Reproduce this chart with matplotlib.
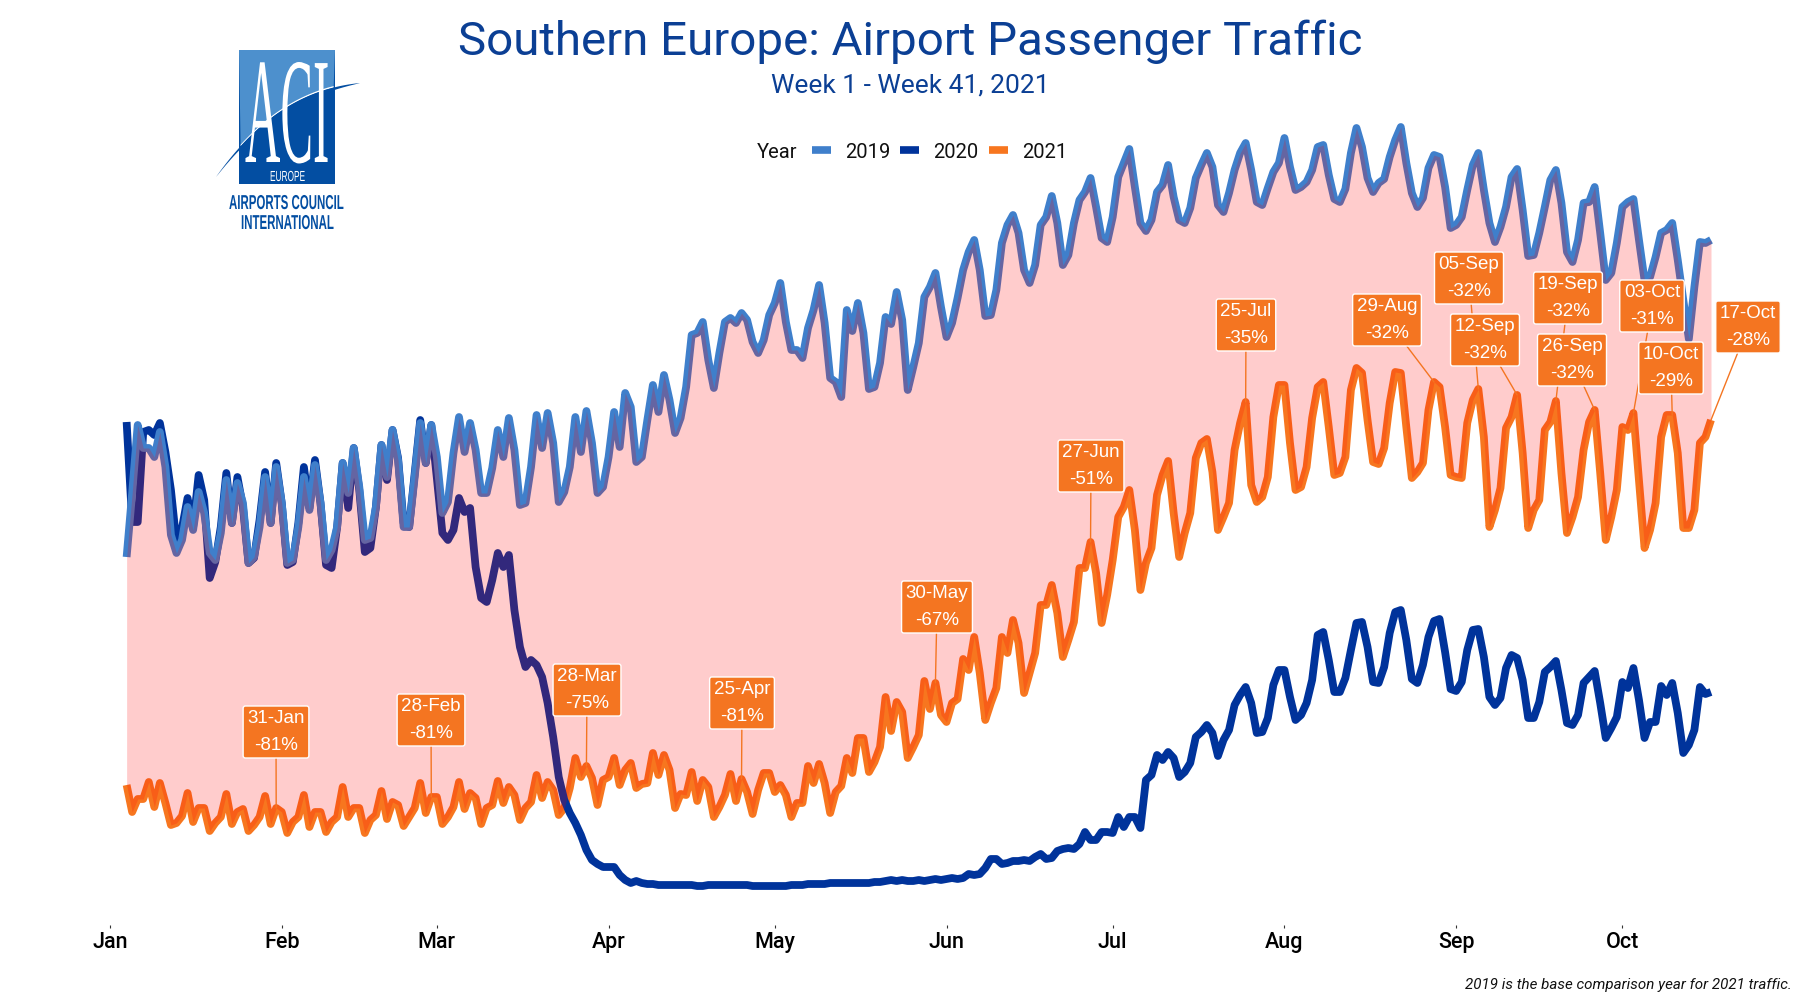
import matplotlib
matplotlib.use('Agg')
import matplotlib.pyplot as plt
import matplotlib.dates as mdates
import matplotlib.patheffects as pe
from matplotlib.lines import Line2D
from matplotlib.patches import Polygon, Rectangle
from matplotlib.transforms import Affine2D
import numpy as np
import pandas as pd

# Daily traffic, Mon 4 Jan to Sun 17 Oct (no y axis in the original)
dates = pd.date_range('2021-01-04', '2021-10-17', freq='D')

traffic_2019 = [
    331, 395, 463, 440, 440, 431, 456, 421, 353, 335, 348, 381, 358, 396,
    375, 335, 328, 355, 408, 365, 405, 385, 325, 331, 361, 411, 365, 421,
    385, 325, 328, 361, 411, 378, 423, 385, 328, 338, 361, 425, 395, 440,
    401, 348, 350, 381, 443, 411, 458, 428, 361, 361, 411, 465, 425, 463,
    431, 375, 386, 435, 471, 436, 465, 438, 395, 395, 420, 458, 431, 470,
    438, 383, 385, 421, 473, 440, 475, 445, 386, 396, 421, 471, 436, 477,
    445, 395, 401, 431, 476, 441, 495, 481, 426, 431, 468, 503, 476, 513,
    488, 455, 470, 501, 553, 555, 566, 528, 500, 535, 566, 570, 565, 575,
    568, 546, 535, 548, 573, 585, 605, 566, 538, 538, 530, 560, 578, 603,
    565, 510, 506, 491, 578, 557, 585, 555, 499, 501, 525, 571, 564, 596,
    568, 498, 521, 545, 591, 601, 615, 581, 551, 565, 590, 618, 636, 648,
    618, 572, 573, 598, 645, 663, 673, 655, 618, 605, 623, 663, 671, 692,
    665, 623, 633, 665, 688, 696, 710, 681, 650, 646, 671, 711, 725, 739,
    701, 665, 657, 668, 696, 703, 723, 691, 668, 665, 680, 710, 723, 735,
    721, 683, 676, 695, 718, 735, 745, 718, 686, 683, 700, 716, 725, 750,
    721, 698, 701, 706, 718, 741, 743, 713, 689, 686, 699, 735, 760, 741,
    710, 696, 705, 709, 731, 748, 761, 725, 695, 681, 690, 720, 733, 731,
    701, 660, 663, 671, 698, 723, 735, 698, 665, 646, 661, 681, 711, 719,
    678, 632, 633, 655, 681, 708, 718, 685, 636, 626, 648, 685, 686, 701,
    655, 608, 615, 645, 681, 686, 689, 648, 608, 611, 631, 655, 658, 665,
    628, 588, 549, 601, 646, 645, 648,
]
traffic_2020 = [
    466, 366, 366, 456, 458, 453, 465, 436, 398, 345, 360, 390, 361, 413,
    388, 310, 326, 361, 415, 365, 411, 381, 325, 330, 368, 416, 365, 425,
    385, 323, 326, 365, 421, 380, 428, 385, 323, 320, 361, 425, 380, 440,
    398, 336, 340, 381, 443, 408, 458, 430, 365, 361, 415, 468, 425, 463,
    410, 355, 348, 358, 390, 376, 380, 321, 290, 286, 308, 335, 321, 333,
    278, 241, 221, 228, 223, 211, 185, 151, 111, 88, 75, 65, 53, 38,
    28, 24, 21, 21, 21, 13, 8, 5, 7, 5, 4, 4, 3, 3,
    3, 3, 3, 3, 3, 2, 2, 3, 3, 3, 3, 3, 3, 3,
    3, 2, 2, 2, 2, 2, 2, 2, 3, 3, 3, 4, 4, 4,
    4, 5, 5, 5, 5, 5, 5, 5, 5, 6, 6, 7, 8, 7,
    8, 7, 7, 8, 7, 8, 9, 8, 9, 10, 9, 10, 14, 13,
    14, 20, 29, 29, 24, 25, 27, 27, 28, 27, 31, 34, 29, 30,
    37, 39, 40, 39, 44, 56, 48, 48, 56, 56, 55, 71, 61, 71,
    71, 60, 108, 113, 133, 128, 136, 130, 111, 116, 125, 151, 156, 163,
    155, 132, 148, 158, 183, 193, 201, 185, 155, 156, 170, 203, 218, 218,
    191, 168, 173, 185, 208, 253, 256, 228, 196, 196, 210, 238, 265, 266,
    241, 206, 205, 221, 255, 276, 278, 248, 209, 205, 223, 251, 267, 269,
    236, 199, 197, 206, 238, 258, 259, 231, 191, 183, 190, 220, 233, 230,
    208, 170, 170, 186, 216, 221, 227, 198, 165, 163, 173, 205, 211, 217,
    185, 150, 160, 171, 206, 200, 220, 188, 150, 166, 166, 202, 193, 205,
    175, 135, 143, 158, 201, 194, 196,
]
traffic_2021 = [
    103, 76, 89, 89, 106, 81, 105, 85, 63, 65, 72, 95, 66, 80,
    80, 57, 65, 71, 94, 64, 76, 79, 57, 63, 71, 92, 64, 80,
    76, 55, 66, 71, 93, 61, 76, 76, 56, 66, 71, 101, 71, 80,
    80, 55, 68, 73, 97, 69, 86, 83, 62, 71, 80, 105, 75, 91,
    91, 64, 71, 81, 106, 79, 95, 90, 64, 80, 83, 107, 85, 101,
    93, 68, 80, 86, 113, 90, 106, 98, 73, 80, 100, 130, 111, 122,
    110, 83, 108, 111, 130, 103, 118, 125, 100, 104, 105, 135, 113, 133,
    118, 80, 94, 93, 116, 87, 108, 101, 71, 81, 93, 114, 87, 109,
    96, 74, 98, 115, 115, 96, 103, 93, 71, 85, 85, 122, 105, 124,
    105, 75, 96, 102, 130, 115, 150, 150, 116, 126, 141, 191, 157, 186,
    176, 130, 141, 153, 207, 179, 205, 173, 166, 185, 189, 229, 218, 251,
    215, 168, 185, 200, 251, 235, 268, 245, 195, 215, 235, 283, 283, 303,
    275, 231, 248, 266, 320, 320, 346, 315, 265, 293, 328, 371, 381, 398,
    358, 298, 325, 340, 393, 413, 427, 375, 331, 355, 375, 430, 445, 449,
    416, 358, 371, 385, 438, 465, 486, 403, 386, 391, 411, 471, 503, 503,
    445, 398, 401, 421, 470, 501, 506, 461, 413, 415, 431, 498, 520, 515,
    468, 426, 424, 440, 485, 516, 515, 461, 410, 416, 425, 478, 506, 501,
    461, 413, 411, 410, 465, 488, 499, 451, 361, 378, 400, 460, 471, 493,
    435, 360, 378, 388, 458, 466, 487, 415, 355, 371, 391, 438, 466, 478,
    415, 348, 371, 398, 461, 458, 475, 408, 340, 358, 385, 451, 473, 473,
    435, 360, 360, 378, 445, 451, 468,
]

label_names = ['31-Jan', '28-Feb', '28-Mar', '25-Apr', '30-May', '27-Jun', '25-Jul', '29-Aug',
               '05-Sep', '12-Sep', '19-Sep', '26-Sep', '03-Oct', '10-Oct', '17-Oct']
label_pcts = ['-81%', '-81%', '-75%', '-81%', '-67%', '-51%', '-35%', '-32%',
              '-32%', '-32%', '-32%', '-32%', '-31%', '-29%', '-28%']
# where each connector lands (the 29-Aug one hits the peak the day before)
label_targets = ['2021-01-31', '2021-02-28', '2021-03-28', '2021-04-25', '2021-05-30',
                 '2021-06-27', '2021-07-25', '2021-08-28', '2021-09-05', '2021-09-12',
                 '2021-09-19', '2021-09-26', '2021-10-03', '2021-10-10', '2021-10-17']
# box centres in reference pixels
label_boxes = [(276, 732), (431, 720), (587, 690), (742, 703), (937, 607), (1091, 466),
               (1246, 325), (1387, 320), (1469, 278), (1485, 340), (1568, 298), (1572, 360),
               (1652, 306), (1671, 368), (1748, 327)]

COLOR_2019 = '#3F7FCB'
COLOR_2020 = '#00339B'
COLOR_2021 = '#F7761F'
NAVY = '#0B3F94'
LOGO_DARK = '#034EA2'
LOGO_LIGHT = '#4D90CD'
W, H = 1800, 1000
FONT = 'Roboto'


class Squeeze(pe.AbstractPathEffect):
    # stretches the glyphs, the logo lettering is much narrower than any installed font
    def __init__(self, sx, sy=1):
        super().__init__()
        self.sx = sx
        self.sy = sy

    def draw_path(self, renderer, gc, tpath, affine, rgbFace=None):
        renderer.draw_path(gc, tpath, Affine2D().scale(self.sx, self.sy) + affine, rgbFace)


def draw_logo(over):
    over.add_patch(Rectangle((239, 50), 96, 134, color=LOGO_DARK, lw=0))
    t = np.linspace(0, 1, 80)
    x = (1 - t)**3 * 216 + 3 * (1 - t)**2 * t * 262 + 3 * (1 - t) * t**2 * 310 + t**3 * 360
    y = (1 - t)**3 * 177 + 3 * (1 - t)**2 * t * 112 + 3 * (1 - t) * t**2 * 88 + t**3 * 83
    inside = (x >= 239) & (x <= 335)
    light = list(zip(x[inside], y[inside])) + [(335, 50), (239, 50)]
    over.add_patch(Polygon(light, color=LOGO_LIGHT, lw=0))
    for letters, left, base, size, sx, sy, color, weight, family in [
        ('ACI', 245, 162, 25, 1.41, 4.35, 'white', 'normal', 'Liberation Serif'),
        ('EUROPE', 270, 181, 10.5, 0.57, 1, 'white', 'normal', 'Liberation Sans'),
        ('AIRPORTS COUNCIL', 229, 209, 14.5, 0.57, 1, LOGO_DARK, 'bold', 'Liberation Sans'),
        ('INTERNATIONAL', 241, 229, 14.5, 0.57, 1, LOGO_DARK, 'bold', 'Liberation Sans'),
    ]:
        over.text(left, base, letters, fontsize=size, color=color, fontweight=weight, family=family,
                  ha='left', va='baseline', path_effects=[Squeeze(sx, sy)])
    thick = 4.5 * np.sin(np.pi * t)**0.8
    band = list(zip(x, y)) + list(zip(x[::-1], (y + thick)[::-1]))
    white = list(zip(x[inside], y[inside] - 1.5)) + list(zip(x[inside][::-1], y[inside][::-1]))
    over.add_patch(Polygon(white, color='white', lw=0))
    over.add_patch(Polygon(band, color=LOGO_DARK, lw=0))


fig = plt.figure(figsize=(W / 100, H / 100), dpi=100)
# Jan 1 sits at x=110, the axis line at y=925
ax = fig.add_axes([110 / W, 1 - 925 / H, (1711 - 110) / W, (925 - 100) / H])
ax.set_xlim(pd.Timestamp('2021-01-01'), pd.Timestamp('2021-10-17'))
ax.set_ylim(-37, 788)

line_kw = dict(lw=5.6, solid_joinstyle='round', solid_capstyle='butt', clip_on=False)
ax.plot(dates, traffic_2021, color=COLOR_2021, zorder=2, **line_kw)
ax.plot(dates, traffic_2020, color=COLOR_2020, zorder=3, **line_kw)
ax.plot(dates, traffic_2019, color=COLOR_2019, zorder=4, **line_kw)
# the ribbon lies over the lines, which is what tints their inner half
ax.fill_between(dates, traffic_2021, traffic_2019, color='red', alpha=0.2, lw=0, zorder=5)

series = pd.Series(traffic_2021, index=dates)
for name, pct, target, box in zip(label_names, label_pcts, label_targets, label_boxes):
    when = pd.Timestamp(target)
    ax.annotate(f'{name}\n{pct}', xy=(when, series[when]), xycoords='data',
                xytext=(box[0], H - box[1]), textcoords='figure pixels',
                ha='center', va='center', color='white', fontsize=13.5, family='Liberation Sans',
                linespacing=1.75, zorder=7, annotation_clip=False,
                bbox=dict(boxstyle='round,pad=0.22,rounding_size=0.12', fc='#F47521', ec='white', lw=1),
                arrowprops=dict(arrowstyle='-', color='#F47521', lw=1, shrinkA=0, shrinkB=0))

ax.xaxis.set_major_locator(mdates.MonthLocator())
ax.xaxis.set_major_formatter(mdates.DateFormatter('%b'))
ax.tick_params(axis='x', length=2.2, width=0.8, color='#333333', pad=2.8, labelsize=15.5)
for lab in ax.get_xticklabels():
    lab.set_family(FONT)
    lab.set_fontweight('medium')
ax.yaxis.set_visible(False)
for side in ax.spines.values():
    side.set_visible(False)
ax.patch.set_alpha(0)

# overlay in reference pixels for title, legend and logo
over = fig.add_axes([0, 0, 1, 1], zorder=10)
over.set_xlim(0, W)
over.set_ylim(H, 0)
over.axis('off')

over.text(910, 42, 'Southern Europe: Airport Passenger Traffic', ha='center', va='center',
          color=NAVY, fontsize=34.2, family=FONT)
over.text(910, 86, 'Week 1 - Week 41, 2021', ha='center', va='center', color=NAVY,
          fontsize=19, family=FONT)

over.text(757, 153, 'Year', ha='left', va='center', fontsize=14.5, family=FONT, color='#111111')
for name, color, x0 in [('2019', COLOR_2019, 812), ('2020', COLOR_2020, 900), ('2021', COLOR_2021, 989)]:
    over.add_line(Line2D([x0, x0 + 19], [150, 150], color=color, lw=5.5, solid_capstyle='butt'))
    over.text(x0 + 33, 153, name, ha='left', va='center', fontsize=14.5, family=FONT, color='#111111')

over.text(1792, 985, '2019 is the base comparison year for 2021 traffic.', ha='right', va='center',
          fontsize=10.9, style='italic', family=FONT, color='#111111')

draw_logo(over)

fig.savefig('out.png', dpi=100, facecolor='white')
